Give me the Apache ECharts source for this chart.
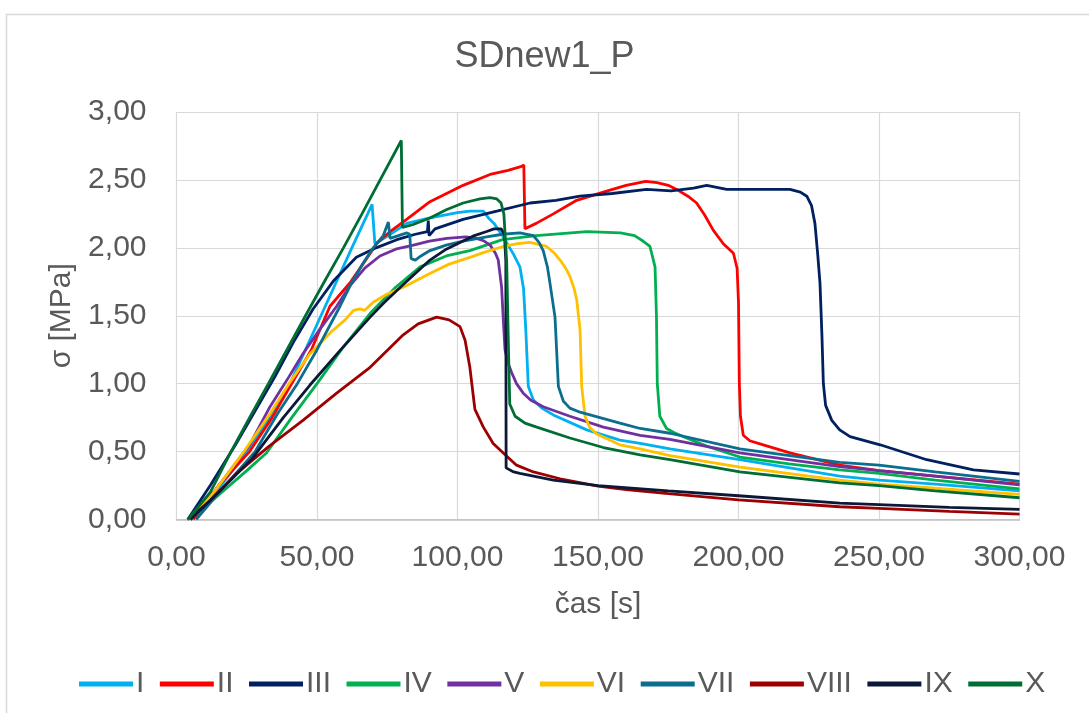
<!DOCTYPE html>
<html>
<head>
<meta charset="utf-8">
<script src="https://cdn.jsdelivr.net/npm/echarts@6/dist/echarts.min.js"></script>
<style>
html,body{margin:0;padding:0;background:#fff;}
#chart{width:1089px;height:713px;}
</style>
</head>
<body>
<div id="chart"></div>
<script>
// ---- data ----
const chartTitle = 'SDnew1_P';
const xName = 'čas [s]';
const yName = 'σ [MPa]';
const xTicks = [0, 50, 100, 150, 200, 250, 300];
const yTicks = [0, 0.5, 1, 1.5, 2, 2.5, 3];
const seriesNames = ['I','II','III','IV','V','VI','VII','VIII','IX','X'];

const sI = [[5,0],[14,0.2],[25,0.5],[33,0.75],[40.4,1.0],[51.4,1.5],[62.4,2.0],[69.6,2.32],[70.6,2.03],[75.4,2.09],[81.9,2.18],[90.2,2.22],[100,2.26],[104.4,2.27],[109.2,2.27],[111,2.22],[113,2.18],[116.3,2.08],[120,1.95],[122.2,1.86],[123.5,1.70],[124.3,1.40],[125.2,0.98],[127,0.88],[130,0.82],[134.1,0.77],[146,0.66],[157.8,0.585],[165,0.56],[175.6,0.52],[200.5,0.44],[236,0.32],[250,0.29],[270,0.26],[300,0.21]];
const sII = [[6,0],[15,0.25],[26,0.5],[34,0.75],[41,1.0],[48,1.25],[54.6,1.57],[62,1.75],[67,1.9],[71.2,2.03],[76,2.12],[81.9,2.21],[90.2,2.34],[102,2.46],[111.6,2.54],[118,2.57],[122.8,2.60],[123.6,2.61],[124,2.14],[128,2.18],[134.1,2.25],[142.4,2.35],[151.9,2.41],[160,2.46],[167,2.49],[171,2.48],[175,2.46],[178,2.43],[182,2.38],[185.1,2.33],[188,2.24],[191,2.13],[194.6,2.03],[198.2,1.96],[199.5,1.85],[200,1.6],[200.3,1.0],[200.7,0.76],[201.7,0.62],[204,0.58],[208.8,0.55],[218.3,0.49],[236,0.40],[250,0.36],[270,0.32],[300,0.26]];
const sIII = [[4,0],[12,0.25],[21,0.55],[28,0.8],[35,1.05],[42,1.32],[48.6,1.55],[56,1.76],[64,1.93],[71,2.0],[78.4,2.06],[85,2.10],[89.3,2.12],[89.6,2.20],[89.9,2.09],[92,2.14],[102,2.21],[114,2.27],[125.8,2.33],[135,2.35],[143.6,2.38],[155,2.40],[167.3,2.43],[176,2.42],[184,2.44],[188.7,2.46],[195.8,2.43],[207.7,2.43],[218.3,2.43],[222,2.41],[224.3,2.38],[226,2.31],[227.2,2.18],[228.2,1.95],[229,1.74],[229.7,1.35],[230.2,1.00],[231,0.84],[233.2,0.73],[236,0.66],[239.7,0.61],[250.4,0.55],[267,0.44],[283.6,0.365],[300,0.335]];
const sIV = [[5,0],[15,0.18],[25,0.36],[32,0.49],[41,0.75],[50,1.0],[59,1.26],[69,1.52],[78,1.71],[86.7,1.86],[96,1.94],[104.4,1.98],[116,2.06],[128,2.09],[146,2.12],[158,2.11],[163,2.09],[166,2.05],[168.5,2.01],[170.3,1.86],[170.8,1.5],[171.1,1.0],[172,0.76],[174.4,0.67],[177,0.64],[181.5,0.60],[188.7,0.54],[200.5,0.46],[218,0.41],[236,0.365],[250,0.34],[270,0.29],[300,0.225]];
const sV = [[5,0],[14,0.22],[26,0.55],[33,0.82],[40,1.05],[45,1.22],[51,1.40],[57,1.57],[61.7,1.72],[67,1.85],[72.4,1.94],[78,1.99],[84.3,2.02],[90,2.05],[96.2,2.07],[103,2.08],[106.8,2.07],[109.5,2.05],[111.6,2.02],[113.5,1.96],[114.5,1.91],[115.7,1.71],[116.3,1.47],[116.9,1.25],[118,1.15],[119.3,1.08],[121,1.0],[123.4,0.93],[126,0.88],[130.5,0.83],[140,0.76],[151.9,0.68],[165,0.62],[175.6,0.59],[200.5,0.49],[236,0.39],[250,0.36],[270,0.32],[300,0.255]];
const sVI = [[5,0],[14,0.22],[24,0.5],[33.3,0.78],[40,1.0],[47.5,1.22],[55,1.38],[60,1.47],[63,1.54],[65.3,1.55],[67,1.54],[70,1.60],[75,1.66],[80.7,1.71],[90,1.81],[97,1.88],[104.4,1.93],[110,1.97],[116.3,2.01],[121,2.03],[125.8,2.04],[131.7,2.01],[134.5,1.96],[136.5,1.91],[138.5,1.85],[140,1.79],[141.5,1.70],[142.4,1.62],[143.6,1.40],[144.2,0.98],[145.4,0.76],[147,0.68],[149.5,0.63],[157.8,0.55],[165,0.52],[175.6,0.47],[200.5,0.385],[236,0.29],[250,0.26],[270,0.23],[300,0.185]];
const sVII = [[7,0],[16,0.22],[28,0.5],[36,0.78],[43,1.0],[50,1.25],[58.2,1.57],[62,1.73],[66.5,1.89],[70,2.0],[73.6,2.09],[75.4,2.19],[76,2.07],[79,2.09],[82,2.11],[83,2.10],[83.5,1.92],[85,1.91],[87,1.94],[90.2,1.98],[96,2.02],[102,2.05],[110.4,2.08],[116,2.10],[122.2,2.11],[127,2.09],[129,2.04],[130.5,1.98],[132,1.86],[132.9,1.74],[134.7,1.49],[135.9,0.98],[137.7,0.87],[140,0.82],[143.6,0.79],[157.8,0.71],[165,0.67],[175.6,0.635],[200.5,0.52],[236,0.42],[250,0.40],[270,0.35],[300,0.28]];
const sVIII = [[4,0],[12,0.14],[21.4,0.34],[33,0.54],[45,0.73],[57,0.93],[68.9,1.12],[80.7,1.36],[86,1.44],[92.6,1.49],[97,1.47],[100.9,1.42],[102.7,1.32],[104.4,1.12],[106.2,0.81],[109.2,0.68],[112.7,0.56],[116.3,0.49],[121,0.40],[127,0.35],[136.5,0.30],[150,0.245],[160,0.22],[175,0.19],[200,0.145],[236,0.094],[250,0.082],[275,0.06],[300,0.04]];
const sIX = [[5,0],[15,0.2],[27,0.45],[38,0.75],[47.5,0.99],[58,1.24],[68.9,1.49],[74,1.60],[80.7,1.73],[90.2,1.91],[96,1.99],[102,2.05],[106,2.09],[110.4,2.12],[113,2.14],[115.5,2.14],[116.7,2.10],[117.2,1.9],[117.3,0.38],[120,0.35],[122.2,0.34],[134.1,0.29],[150,0.25],[175,0.21],[200,0.175],[236,0.12],[250,0.11],[275,0.09],[300,0.075]];
const sX = [[4,0],[12,0.2],[19.4,0.5],[26,0.75],[32.7,1.0],[39.3,1.25],[45.9,1.5],[52.6,1.75],[59.4,2.0],[66,2.25],[73,2.52],[80,2.79],[80.4,2.15],[84,2.17],[90.2,2.22],[96,2.28],[102,2.33],[108,2.36],[111.6,2.37],[114,2.36],[115.5,2.33],[116.5,2.25],[117.5,1.9],[118.2,1.2],[118.6,0.85],[120.5,0.76],[124,0.71],[128.2,0.68],[140,0.60],[151.9,0.53],[165,0.475],[175.6,0.44],[200.5,0.35],[236,0.27],[250,0.25],[270,0.21],[300,0.16]];

const allData = [sI, sII, sIII, sIV, sV, sVI, sVII, sVIII, sIX, sX];
const colors = ['#00B0F0','#FF0000','#002060','#00B050','#7030A0','#FFC000','#0B6E8F','#9C0000','#0C1838','#006D35'];

// ---- chart ----
const font = 'Liberation Sans, Arial, sans-serif';
const txt = '#595959';
const fmt = v => v.toFixed(2).replace('.', ',');

const chart = echarts.init(document.getElementById('chart'), null, {renderer: 'canvas'});
chart.setOption({
  animation: false,
  backgroundColor: '#fff',
  color: colors,
  graphic: [{
    type: 'rect', left: 4, top: 12, silent: true,
    shape: {x: 0, y: 0, width: 1300, height: 900},
    style: {fill: 'none', stroke: '#D9D9D9', lineWidth: 1.5}
  }],
  title: {
    text: chartTitle, left: 'center', top: 34,
    textStyle: {fontFamily: font, fontSize: 36, fontWeight: 'normal', color: txt}
  },
  legend: {
    data: seriesNames, left: 74, top: 664,
    icon: 'rect',
    itemWidth: 54, itemHeight: 5, itemGap: 15.5,
    textStyle: {fontFamily: font, fontSize: 30, color: txt, padding: [0,0,0,-2]}
  },
  grid: {left: 176.5, right: 69.5, top: 112, bottom: 193.5, containLabel: false},
  xAxis: {
    type: 'value', min: xTicks[0], max: xTicks[xTicks.length-1], interval: 50,
    name: xName, nameLocation: 'middle', nameGap: 70,
    nameTextStyle: {fontFamily: font, fontSize: 30, color: txt},
    axisLine: {show: true, lineStyle: {color: '#BFBFBF', width: 1.5}},
    axisTick: {show: false},
    axisLabel: {formatter: fmt, fontFamily: font, fontSize: 30, color: txt, margin: 23},
    splitLine: {show: true, lineStyle: {color: '#D9D9D9', width: 1.2}}
  },
  yAxis: {
    type: 'value', min: yTicks[0], max: yTicks[yTicks.length-1], interval: 0.5,
    name: yName, nameLocation: 'middle', nameGap: 99,
    nameTextStyle: {fontFamily: font, fontSize: 30, color: txt},
    axisLine: {show: false},
    axisTick: {show: false},
    axisLabel: {formatter: fmt, fontFamily: font, fontSize: 30, color: txt, margin: 30},
    splitLine: {show: true, lineStyle: {color: '#D9D9D9', width: 1.2}}
  },
  series: seriesNames.map((n, i) => ({
    name: n, type: 'line', data: allData[i],
    symbol: 'none', showSymbol: false, smooth: false,
    lineStyle: {width: 2.8, color: colors[i]},
    itemStyle: {color: colors[i]},
    emphasis: {disabled: true}
  }))
});
</script>
</body>
</html>
